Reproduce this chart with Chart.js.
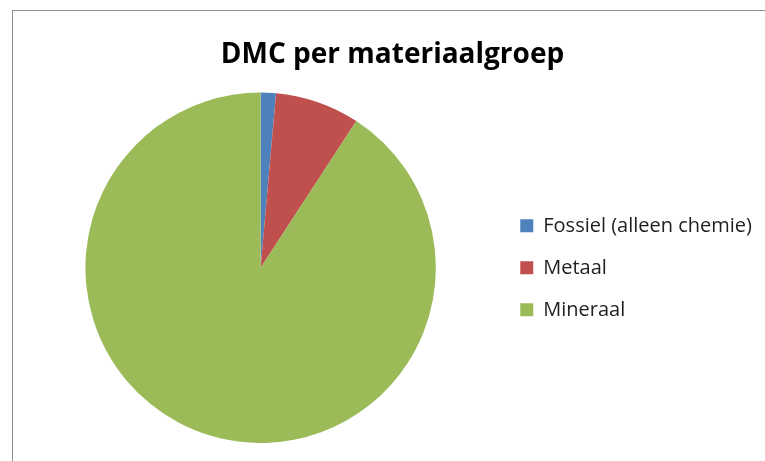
<!DOCTYPE html>
<html>
<head>
<meta charset="utf-8">
<script src="https://cdn.jsdelivr.net/npm/chart.js@4"></script>
<style>
  html, body { margin: 0; padding: 0; background: #fff; overflow: hidden; }
  .wrap { position: relative; width: 765px; height: 461px; }
  .frame { position: absolute; left: 12px; top: 10px; width: 900px; height: 600px; border: 1px solid #8e8e8e; }
  canvas { position: absolute; left: 0; top: 0; }
</style>
</head>
<body>
<div class="wrap">
  <div class="frame"></div>
  <canvas id="pie"></canvas>
</div>
<script>
// DMC per materiaalgroep (share in %)
const labels = ['Fossiel (alleen chemie)', 'Metaal', 'Mineraal'];
const shares = [1.4, 7.8, 90.8];
const colors = ['#4F81BD', '#C0504D', '#9BBB59'];

const ctx = document.getElementById('pie');
ctx.width = 765;
ctx.height = 461;

new Chart(ctx, {
    type: 'pie',
    data: {
        labels: labels,
        datasets: [{
            data: shares,
            backgroundColor: colors,
            borderWidth: 0
        }]
    },
    options: {
        responsive: false,
        animation: false,
        layout: {
            padding: { left: 23, right: 3, top: 0, bottom: 18 }
        },
        plugins: {
            title: {
                display: true,
                text: 'DMC per materiaalgroep',
                color: '#000',
                font: { family: 'Open Sans', size: 28, weight: 'bold' },
                padding: { top: 38, bottom: 21 }
            },
            legend: {
                position: 'right',
                fullSize: false,
                labels: {
                    color: '#1f1f1f',
                    font: { family: 'Open Sans', size: 20 },
                    boxWidth: 13,
                    boxHeight: 13,
                    padding: 22
                }
            },
            tooltip: { enabled: false }
        }
    }
});
</script>
</body>
</html>
